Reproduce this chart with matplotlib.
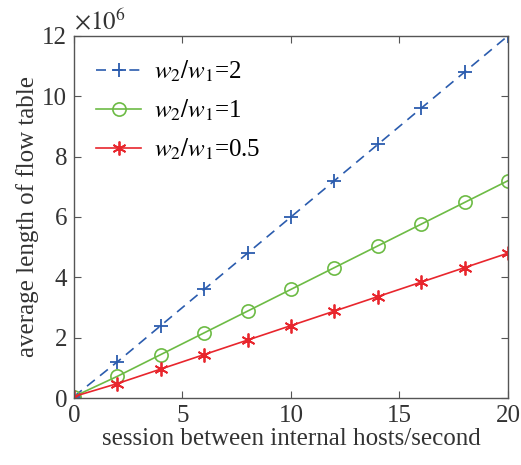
import matplotlib
matplotlib.use("Agg")
import matplotlib.pyplot as plt
import numpy as np

x = [0, 2, 4, 6, 8, 10, 12, 14, 16, 18, 20]
y_ratio2 = [0.05, 1.2, 2.4, 3.6, 4.8, 6.0, 7.2, 8.4, 9.6, 10.8, 12.0]
y_ratio1 = [0.05, 0.72, 1.44, 2.16, 2.88, 3.6, 4.32, 5.04, 5.76, 6.48, 7.2]
y_ratio05 = [0.05, 0.48, 0.96, 1.44, 1.92, 2.4, 2.88, 3.36, 3.84, 4.32, 4.8]
labels = ['$w_2/w_1$=2', '$w_2/w_1$=1', '$w_2/w_1$=0.5']

plt.rcParams['font.family'] = 'Liberation Serif'
plt.rcParams['mathtext.fontset'] = 'stix'

fig = plt.figure(figsize=(5.21, 4.65), dpi=100)
ax = fig.add_axes([0.142, 0.144, 0.833, 0.779])

scale = 1e6
ax.plot(x, np.array(y_ratio2) * scale, color='#2b5cae', linestyle=(0, (6, 4)), lw=1.2,
        marker='+', ms=10, mew=1.3, label=labels[0])
ax.plot(x, np.array(y_ratio1) * scale, color='#6dbb45', lw=1.2,
        marker='o', ms=9.5, mfc='none', mew=1.2, label=labels[1])
ax.plot(x, np.array(y_ratio05) * scale, color='#e8262d', lw=1.2,
        marker=(6, 2, 0), ms=10, mew=1.3, label=labels[2])

ax.set_xlim(0, 20)
ax.set_ylim(0, 12e6)
ax.set_xticks([0, 5, 10, 15, 20])
ax.set_yticks(np.arange(0, 13, 2) * scale)
ax.set_yticklabels([str(v) for v in range(0, 13, 2)])
ax.text(0.0, 1.005, r'$\times 10^6$', transform=ax.transAxes, fontsize=18, color='#333333',
        ha='left', va='bottom')

for s in ax.spines.values():
    s.set_color('#555555')
    s.set_linewidth(1.0)
ax.tick_params(direction='in', top=True, right=True, labelsize=18, colors='#555555',
               labelcolor='#333333', length=5, pad=5)

ax.set_xlabel('session between internal hosts/second', fontsize=18, color='#333333', labelpad=1)
ax.set_ylabel('average length of flow table', fontsize=18, color='#333333', labelpad=2)

ax.legend(loc='upper left', frameon=False, fontsize=18, handlelength=1.8,
          borderaxespad=0.5, labelspacing=0.55, handletextpad=0.5)

fig.savefig('out.png', dpi=100)
